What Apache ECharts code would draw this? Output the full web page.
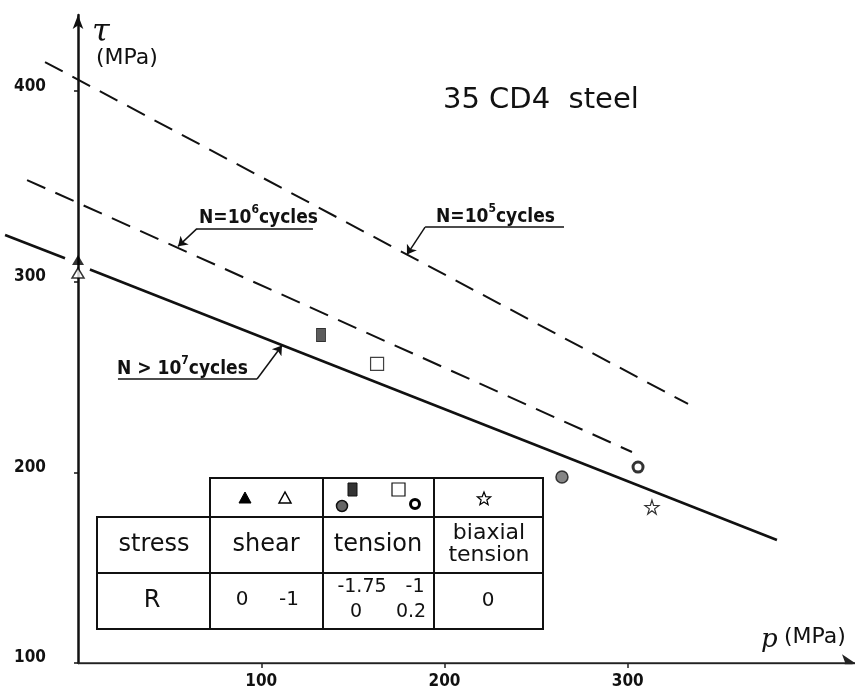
<!DOCTYPE html>
<html><head><meta charset="utf-8">
<script src="https://cdn.jsdelivr.net/npm/echarts@6/dist/echarts.min.js"></script>
<style>html,body{margin:0;padding:0;background:#fff}#c{width:860px;height:691px}</style>
</head><body><div id="c"></div>
<script>
// ---- data ----
const yTicks = [100, 200, 300, 400];
const xTicks = [100, 200, 300];
const lineN7Left = [[-39.8, 324.6], [-7.1, 312.4]];
const lineN7Right = [[6.5, 306.5], [381.4, 164.5]];
const lineN6 = [[-27.8, 353.4], [302.3, 210.7]];
const lineN5 = [[-18.0, 415.3], [332.9, 235.9]];
const shearR0 = [[0, 311.4]];
const shearRm1 = [[0, 304.6]];
const tensionRm175 = [[132.6, 272.1]];
const tensionRm1 = [[163.2, 256.9]];
const tensionR0 = [[264.1, 197.6]];
const tensionR02 = [[305.6, 202.8]];
const biaxialR0 = [[313.2, 181.8]];
const tableHeads = ['stress', 'shear', 'tension', 'biaxial\ntension'];
const tableRLabel = 'R';
const shearRs = ['0', '-1'];
const tensionRs = ['-1.75', '-1', '0', '0.2'];
const biaxialRs = ['0'];

// ---- annotation geometry (data coords) ----
const xAxisLine = [[0, 100], [424, 100]];
const underlines = [
  [[64.9, 327.9], [128.2, 327.9]],
  [[189.4, 328.7], [265.2, 328.7]],
  [[21.8, 249.0], [97.7, 249.0]]
];
const leaders = [
  [[64.9, 327.9], [54.6, 318.6]],
  [[189.4, 328.7], [179.5, 314.3]],
  [[97.7, 249.0], [111.3, 266.6]]
];

const FONT = '"DejaVu Sans", sans-serif';
const CFONT = '"DejaVu Sans Condensed", "DejaVu Sans", sans-serif';
const starPath = 'path://M50,0 L61,35 L98,35 L68,57 L79,91 L50,70 L21,91 L32,57 L2,35 L39,35 Z';

function lineSeries(d, dashed, width) {
  return {
    type: 'line', data: d, showSymbol: false, symbol: 'none', clip: false, silent: true,
    lineStyle: { color: '#111', width: width, type: dashed ? [20, 11] : 'solid' },
    z: 2
  };
}
function scatter(d, symbol, size, style) {
  return { type: 'scatter', data: d, symbol: symbol, symbolSize: size, clip: false,
    itemStyle: style, z: 5 };
}

const chart = echarts.init(document.getElementById('c'));

const txt = (x, y, s, size, extra, fam) => ({
  type: 'text', x: x, y: y, z: 20,
  style: Object.assign({ text: s, font: size + 'px ' + (fam || FONT), fill: '#111',
    align: 'center', verticalAlign: 'middle' }, extra || {})
});

const graphics = [];
graphics.push({ type: 'rect', shape: { x: 97, y: 517, width: 446, height: 112 },
  style: { fill: '#fff', stroke: '#111', lineWidth: 2 }, z: 10 });
graphics.push({ type: 'rect', shape: { x: 210, y: 478, width: 333, height: 39 },
  style: { fill: '#fff', stroke: '#111', lineWidth: 2 }, z: 10 });
[[97, 573, 543, 573], [210, 478, 210, 629], [323, 478, 323, 629], [434, 478, 434, 629]].forEach(s => {
  graphics.push({ type: 'line', shape: { x1: s[0], y1: s[1], x2: s[2], y2: s[3] },
    style: { stroke: '#111', lineWidth: 2 }, z: 11 });
});
graphics.push(txt(154, 545, tableHeads[0], 24));
graphics.push(txt(266, 545, tableHeads[1], 24));
graphics.push(txt(378, 545, tableHeads[2], 24));
graphics.push(txt(489, 544, tableHeads[3], 22, { lineHeight: 22 }));
graphics.push(txt(152, 601, tableRLabel, 24));
graphics.push(txt(242, 600, shearRs[0], 20));
graphics.push(txt(289, 600, shearRs[1], 20));
graphics.push(txt(362, 587, tensionRs[0], 19));
graphics.push(txt(415, 587, tensionRs[1], 19));
graphics.push(txt(356, 612, tensionRs[2], 19));
graphics.push(txt(411, 612, tensionRs[3], 19));
graphics.push(txt(488, 601, biaxialRs[0], 20));
// table markers
graphics.push({ type: 'polygon', shape: { points: [[239, 503], [245, 492], [251, 503]] },
  style: { fill: '#000', stroke: '#000', lineWidth: 1 }, z: 12 });
graphics.push({ type: 'polygon', shape: { points: [[279, 503], [285, 492], [291, 503]] },
  style: { fill: '#fff', stroke: '#000', lineWidth: 1.5 }, z: 12 });
graphics.push({ type: 'rect', shape: { x: 348, y: 483, width: 9, height: 13 },
  style: { fill: '#333', stroke: '#111', lineWidth: 1 }, z: 12 });
graphics.push({ type: 'rect', shape: { x: 392, y: 483, width: 13, height: 13 },
  style: { fill: '#fff', stroke: '#111', lineWidth: 1.2 }, z: 12 });
graphics.push({ type: 'circle', shape: { cx: 342, cy: 506, r: 5.5 },
  style: { fill: '#666', stroke: '#111', lineWidth: 1.5 }, z: 12 });
graphics.push({ type: 'circle', shape: { cx: 415, cy: 504, r: 4.5 },
  style: { fill: '#fff', stroke: '#000', lineWidth: 3 }, z: 12 });
(function () {
  const pts = []; const cx = 484, cy = 499, R = 7, r = 3;
  for (let i = 0; i < 10; i++) {
    const a = -Math.PI / 2 + i * Math.PI / 5; const rr = i % 2 ? r : R;
    pts.push([cx + rr * Math.cos(a), cy + rr * Math.sin(a)]);
  }
  graphics.push({ type: 'polygon', shape: { points: pts },
    style: { fill: '#fff', stroke: '#000', lineWidth: 1.2 }, z: 12 });
})();
// titles / axis names / annotations
graphics.push(txt(443, 100, '35 CD4  steel', 29, { align: 'left' }));
graphics.push(txt(92, 33, 'τ', 32, { align: 'left', font: 'italic 32px "DejaVu Serif", serif' }));
graphics.push(txt(96, 58, '(MPa)', 22, { align: 'left' }));
graphics.push(txt(761, 640, 'p', 26, { align: 'left', font: 'italic 26px "DejaVu Serif", serif' }));
graphics.push(txt(784, 637, '(MPa)', 22, { align: 'left' }));
function nLabel(x, y, pre, sup) {
  return { type: 'text', x: x, y: y, z: 20, style: {
    text: '{a|' + pre + '}{s|' + sup + '}{a|cycles}', align: 'left', verticalAlign: 'middle',
    rich: { a: { font: 'bold 19px ' + CFONT, fill: '#111', lineHeight: 24, verticalAlign: 'bottom' },
            s: { font: 'bold 12px ' + CFONT, fill: '#111', lineHeight: 24, verticalAlign: 'top' } } } };
}
graphics.push(nLabel(199, 216, 'N=10', '6'));
graphics.push(nLabel(436, 215, 'N=10', '5'));
graphics.push(nLabel(117, 367, 'N > 10', '7'));

chart.setOption({
  animation: false,
  backgroundColor: '#fff',
  grid: { left: 0, right: 5, top: 15, bottom: 28, containLabel: false, outerBoundsMode: 'none' },
  xAxis: {
    type: 'value', min: -42.57, max: 424,
    axisLine: { show: false },
    axisTick: { show: true, inside: false, length: 5, customValues: xTicks, lineStyle: { color: '#222', width: 1.5 } },
    axisLabel: { customValues: xTicks, margin: 10, color: '#111', fontSize: 17, fontWeight: 'bold', fontFamily: CFONT },
    splitLine: { show: false }
  },
  yAxis: {
    type: 'value', min: 100, max: 440,
    axisLine: { show: true, onZero: true, lineStyle: { color: '#111', width: 2.5 }, symbol: ['none', 'arrow'], symbolSize: [8, 14] },
    axisTick: { show: true, length: 4, customValues: yTicks, lineStyle: { color: '#111', width: 1.5 } },
    axisLabel: { customValues: yTicks, margin: -46, color: '#111', fontSize: 17, fontWeight: 'bold', fontFamily: CFONT, verticalAlign: 'bottom', lineHeight: 10 },
    splitLine: { show: false }
  },
  series: [
    lineSeries(lineN7Left, false, 2.6),
    lineSeries(lineN7Right, false, 2.6),
    lineSeries(lineN6, true, 2),
    lineSeries(lineN5, true, 2),
    scatter(shearR0, 'triangle', [12, 10], { color: '#000' }),
    scatter(shearRm1, 'triangle', [12, 10], { color: '#fff', borderColor: '#000', borderWidth: 1.5 }),
    scatter(tensionRm175, 'rect', [9, 13], { color: '#333', borderColor: '#111', borderWidth: 1 }),
    scatter(tensionRm1, 'rect', [13, 13], { color: '#fff', borderColor: '#111', borderWidth: 1.2 }),
    scatter(tensionR0, 'circle', 12, { color: '#666', borderColor: '#111', borderWidth: 1.5 }),
    scatter(tensionR02, 'circle', 10, { color: '#fff', borderColor: '#000', borderWidth: 3 }),
    scatter(biaxialR0, starPath, 14, { color: '#fff', borderColor: '#000', borderWidth: 1.2 }),
    { type: 'lines', coordinateSystem: 'cartesian2d', polyline: false, silent: true,
      data: [{ coords: xAxisLine }], symbol: ['none', 'arrow'], symbolSize: 13,
      lineStyle: { color: '#222', width: 2.5, opacity: 1 }, z: 3 },
    { type: 'lines', coordinateSystem: 'cartesian2d', polyline: false, silent: true,
      data: underlines.map(c => ({ coords: c })), symbol: 'none',
      lineStyle: { color: '#111', width: 1.5, opacity: 1 }, z: 6 },
    { type: 'lines', coordinateSystem: 'cartesian2d', polyline: false, silent: true,
      data: leaders.map(c => ({ coords: c })), symbol: ['none', 'arrow'], symbolSize: 9,
      lineStyle: { color: '#111', width: 1.5, opacity: 1 }, z: 6 }
  ],
  graphic: graphics
});
</script></body></html>
